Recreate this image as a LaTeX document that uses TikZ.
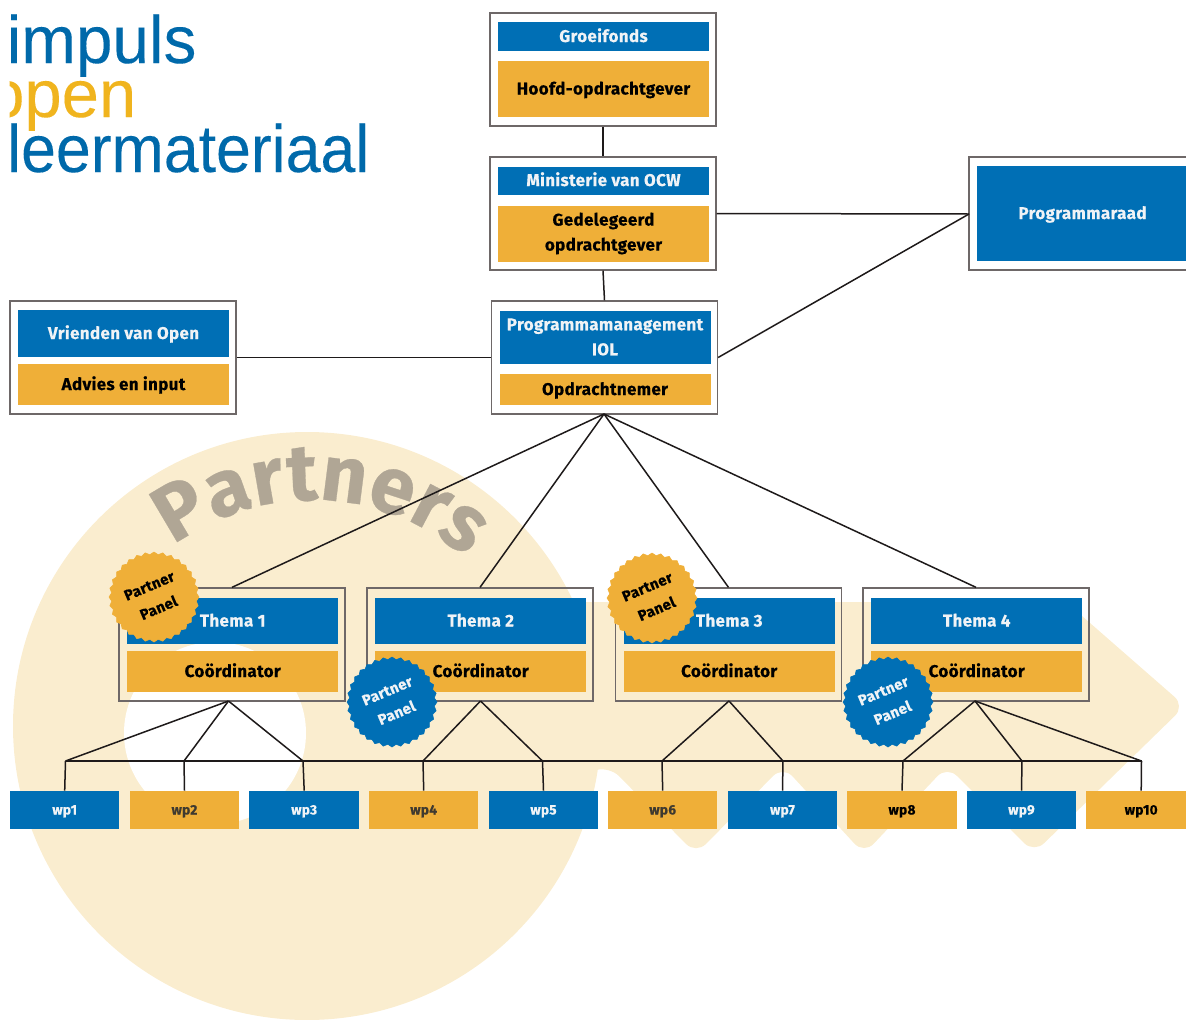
\documentclass[tikz,border=0pt]{standalone}
\usepackage{graphicx}
\usepackage{fontspec}
\setmainfont{Fira Sans}[BoldFeatures={FakeBold=0.35,LetterSpace=2}]
\newfontfamily\logofont{Liberation Sans}[FakeBold=0.15]
\usetikzlibrary{shapes.geometric,decorations.text}
\definecolor{ioblue}{HTML}{006FB5}
\definecolor{iogold}{HTML}{EFAF38}
\definecolor{cream}{HTML}{FAEDCF}
\definecolor{logogold}{HTML}{F0B41E}
\definecolor{logoblue}{HTML}{0069AA}
\definecolor{framegrey}{HTML}{6E6868}
\definecolor{partgrey}{HTML}{B0A695}
\definecolor{softtext}{HTML}{F0F3F6}
\definecolor{midtext}{HTML}{3F3A30}
\definecolor{linecol}{HTML}{1E1A1A}
\tikzset{
  x=1pt,y=-1pt,
  frame/.style={draw=framegrey,line width=1.3pt,minimum width=226pt,minimum height=113pt,inner sep=0pt},
  bluebar/.style={fill=ioblue,text=softtext,minimum width=211pt,inner sep=0pt,font=\fontsize{17}{25}\selectfont\bfseries,align=center},
  goldbar/.style={fill=iogold,text=black,minimum width=211pt,inner sep=0pt,font=\fontsize{17}{25}\selectfont\bfseries,align=center},
  oneline/.style={align=none,text height=11pt,text depth=0pt},
  wpblue/.style={fill=ioblue,text=softtext,minimum width=109.5pt,minimum height=38.5pt,inner sep=0pt,font=\fontsize{13.7}{14}\selectfont\bfseries,text height=9pt,text depth=0pt},
  wpgold/.style={fill=iogold,text=black,minimum width=109.5pt,minimum height=38.5pt,inner sep=0pt,font=\fontsize{13.7}{14}\selectfont\bfseries,text height=9pt,text depth=0pt},
  link/.style={draw=linecol,line width=1.5pt,line join=round},
  badge/.style={star,star points=32,star point ratio=1.06,minimum size=90pt,inner sep=0pt,line width=0.6pt,line join=round},
  badgetext/.style={rotate=23,align=center,font=\fontsize{15}{24}\selectfont\bfseries,inner sep=0pt},
  logotext/.style={anchor=base west,inner sep=0pt,font=\logofont\fontsize{67}{67}\selectfont}
}
\begin{document}
\begin{tikzpicture}
\useasboundingbox (0,0) rectangle (1186,1020);
% key silhouette
\fill[cream] (307,726) circle[radius=294];
\fill[cream,rounded corners=14pt] (500,602) -- (1066,602) -- (1185,706) -- (1034,853) -- (947,766) -- (864,854) -- (783,766) -- (696,854) -- (609,766) -- (500,800) -- cycle;
\fill[white] (215,733) circle[radius=91];
% curved word
\path[decorate,decoration={text along path,text align={fit to path},text={|\fontsize{80}{80}\selectfont\bfseries\color{partgrey}|Partners}}]
  (312,733) ++(-126.5:233) arc[start angle=-126.5,end angle=-51,radius=233];
% logo
\node[logotext,text=logoblue] (logoa) at (6.5,63) {\scalebox{.98}[1]{impuls}};
\begin{scope}
\clip (9.5,60) rectangle (200,140);
\node[logotext,text=logogold] (logob) at (-13,117) {open};
\end{scope}
\node[logotext,text=logoblue] (logoc) at (7,172) {\scalebox{.935}[1]{leermateriaal}};
% top frames
\node[frame] (a) at (603,69.5) {};
\node[bluebar,oneline,minimum height=29pt] (abl) at (603.5,36.5) {Groeifonds};
\node[goldbar,oneline,minimum height=56pt] (ago) at (603.5,89) {Hoofd-opdrachtgever};
\node[frame] (b) at (603,213.5) {};
\node[bluebar,oneline,minimum height=28pt] (bbl) at (603.5,180.5) {Ministerie van OCW};
\node[goldbar,minimum height=56pt] (bgo) at (603.5,233.5) {Gedelegeerd\\opdrachtgever};
\node[frame] (c) at (604.5,357.5) {};
\node[bluebar,minimum height=53pt] (cbl) at (605,337) {Programmamanagement\\IOL};
\node[goldbar,oneline,minimum height=31pt] (cgo) at (605,389.5) {Opdrachtnemer};
\node[frame] (v) at (123,357.5) {};
\node[bluebar,oneline,minimum height=47pt] (vbl) at (123.5,333.5) {Vrienden van Open};
\node[goldbar,oneline,minimum height=41pt] (vgo) at (123.5,384.5) {Advies en input};
\node[frame] (p) at (1082,213.5) {};
\node[bluebar,oneline,minimum height=95pt] (pbl) at (1082.5,213.5) {Programmaraad};
% thema frames
\foreach \n/\cx in {1/232,2/480,3/728.5,4/976}{
  \node[frame] (t\n) at (\cx,644.5) {};
  \node[bluebar,oneline,minimum height=46.5pt] (t\n b) at (\cx+.7,621) {Thema \n};
  \node[goldbar,oneline,minimum height=41.5pt] (t\n g) at (\cx+.7,671.5) {Coördinator};
}
% wp boxes
\foreach \n/\cx/\st/\tc in {1/64.7/wpblue/softtext,2/184.5/wpgold/midtext,3/304.2/wpblue/softtext,4/423.7/wpgold/midtext,5/543.5/wpblue/softtext,6/662.7/wpgold/midtext,7/782.5/wpblue/softtext,8/902/wpgold/black,9/1021.5/wpblue/softtext,10/1141.2/wpgold/black}{
  \node[\st,text=\tc] (w\n) at (\cx,810) {wp\n};
}
% junction coordinates
\foreach \n/\cx in {1/65.5,2/184,3/303,4/423,5/542.5,6/662,7/783,8/903,9/1022,10/1141.5}{
  \coordinate (j\n) at (\cx,761);
}
\coordinate (t1out) at (228.5,701);
\coordinate (t2out) at (480.5,701);
\coordinate (t3out) at (729,701);
\coordinate (t4out) at (975,701);
\coordinate (cout) at (604,414);
\coordinate (ph) at (969,214);
% links
\draw[link] (a.south) -- (b.north);
\draw[link] (b.south) -- (c.north);
\draw[link] (b.east) -- (ph);
\draw[link] (c.east) -- (ph);
\draw[link] (v.east) -- (c.west);
\foreach \n in {1,2,3,4}{ \draw[link] (cout) -- (t\n.north); }
\draw[link] (j1) -- (j10);
\foreach \n in {1,...,10}{ \draw[link] (j\n) -- (w\n.north); }
\foreach \n in {1,2,3}{ \draw[link] (t1out) -- (j\n); }
\foreach \n in {4,5}{ \draw[link] (t2out) -- (j\n); }
\foreach \n in {6,7}{ \draw[link] (t3out) -- (j\n); }
\foreach \n in {8,9,10}{ \draw[link] (t4out) -- (j\n); }
% badges
\node[badge,fill=iogold,draw=iogold] (pa) at (154,597) {};
\node[badgetext,text=black] (pat) at (154,597) {Partner\\Panel};
\node[badge,fill=ioblue,draw=ioblue] (pb) at (392,702) {};
\node[badgetext,text=softtext] (pbt) at (392,702) {Partner\\Panel};
\node[badge,fill=iogold,draw=iogold] (pc) at (652,598) {};
\node[badgetext,text=black] (pct) at (652,598) {Partner\\Panel};
\node[badge,fill=ioblue,draw=ioblue] (pd) at (888,702) {};
\node[badgetext,text=softtext] (pdt) at (888,702) {Partner\\Panel};
\end{tikzpicture}
\end{document}
